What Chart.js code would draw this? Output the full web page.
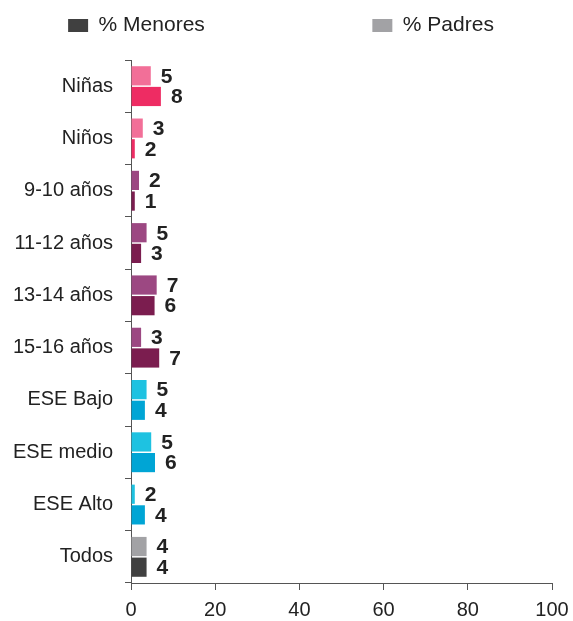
<!DOCTYPE html>
<html>
<head>
<meta charset="utf-8">
<script src="https://cdn.jsdelivr.net/npm/chart.js@4"></script>
<style>
html,body{margin:0;padding:0;background:#fff;}
#wrap{width:573px;height:621px;}
</style>
</head>
<body>
<div id="wrap"><canvas id="c" width="573" height="621"></canvas></div>
<script>
const categories = ["Niñas","Niños","9-10 años","11-12 años","13-14 años","15-16 años","ESE Bajo","ESE medio","ESE Alto","Todos"];
const padresValues = [4.7, 2.8, 1.9, 3.7, 6.1, 2.4, 3.7, 4.8, 0.9, 3.7];
const menoresValues = [7.1, 0.9, 0.9, 2.4, 5.6, 6.7, 3.3, 5.7, 3.3, 3.7];
const padresLabels = [5, 3, 2, 5, 7, 3, 5, 5, 2, 4];
const menoresLabels = [8, 2, 1, 3, 6, 7, 4, 6, 4, 4];
const padresColors = ["#f26f98","#f26f98","#9c4882","#9c4882","#9c4882","#9c4882","#1ec2e1","#1ec2e1","#1ec2e1","#a2a2a5"];
const menoresColors = ["#ee2c63","#ee2c63","#7b1d4f","#7b1d4f","#7b1d4f","#7b1d4f","#00a5d5","#00a5d5","#00a5d5","#404040"];
const xTicks = [0, 20, 40, 60, 80, 100];
const legendNames = ["% Menores", "% Padres"];
const legendColors = ["#404040", "#a2a2a5"];

const FONT = "'Liberation Sans', Arial, sans-serif";

const valueLabels = {
  id: 'valueLabels',
  afterDatasetsDraw(chart) {
    const ctx = chart.ctx;
    ctx.save();
    ctx.font = "bold 21px " + FONT;
    ctx.fillStyle = "#222";
    ctx.textAlign = "left";
    ctx.textBaseline = "middle";
    chart.data.datasets.forEach((ds, di) => {
      const meta = chart.getDatasetMeta(di);
      meta.data.forEach((bar, i) => {
        ctx.fillText(String(ds.shownLabels[i]), bar.x + 10, bar.y + 1);
      });
    });
    ctx.restore();
  }
};

const legendLayout = {
  id: 'legendLayout',
  beforeInit(chart) {
    const orig = chart.legend.fit;
    chart.legend.fit = function () {
      orig.bind(chart.legend)();
      this.height = 55;
    };
  },
  afterLayout(chart) {
    chart.legend.left += 5;
    chart.legend.right += 5;
  }
};

new Chart(document.getElementById('c'), {
  type: 'bar',
  data: {
    labels: categories,
    datasets: [
      { label: legendNames[1], data: padresValues, shownLabels: padresLabels, backgroundColor: padresColors,
        categoryPercentage: 0.79, barPercentage: 0.93 },
      { label: legendNames[0], data: menoresValues, shownLabels: menoresLabels, backgroundColor: menoresColors,
        categoryPercentage: 0.79, barPercentage: 0.93 }
    ]
  },
  options: {
    indexAxis: 'y',
    responsive: false,
    animation: false,
    layout: { padding: { left: 0, right: 21, top: 5, bottom: 0 } },
    plugins: {
      tooltip: { enabled: false },
      legend: {
        position: 'top',
        labels: {
          font: { family: FONT, size: 21 },
          color: "#222",
          boxWidth: 20,
          boxHeight: 13,
          padding: 10,
          generateLabels() {
            return [
              { text: legendNames[0] + " ".repeat(27), fillStyle: legendColors[0], strokeStyle: legendColors[0], lineWidth: 0, datasetIndex: 1, fontColor: "#222" },
              { text: legendNames[1], fillStyle: legendColors[1], strokeStyle: legendColors[1], lineWidth: 0, datasetIndex: 0, fontColor: "#222" }
            ];
          }
        }
      }
    },
    scales: {
      x: {
        min: 0, max: 100,
        afterBuildTicks(scale) { scale.ticks = xTicks.map(v => ({ value: v })); },
        afterFit(scale) { scale.height = 38; scale.paddingRight = 0; scale.paddingLeft = 0; },
        ticks: { font: { family: FONT, size: 20 }, color: "#222", padding: 8, maxRotation: 0 },
        grid: { drawOnChartArea: false, drawTicks: true, tickLength: 7, color: "#555" },
        border: { color: "#555", width: 1 }
      },
      y: {
        afterFit(scale) { scale.width = 131; },
        ticks: { font: { family: FONT, size: 20 }, color: "#222", padding: 12 },
        grid: { drawOnChartArea: false, drawTicks: true, tickLength: 6, color: "#555", offset: true },
        border: { color: "#555", width: 1 }
      }
    }
  },
  plugins: [valueLabels, legendLayout]
});
</script>
</body>
</html>
